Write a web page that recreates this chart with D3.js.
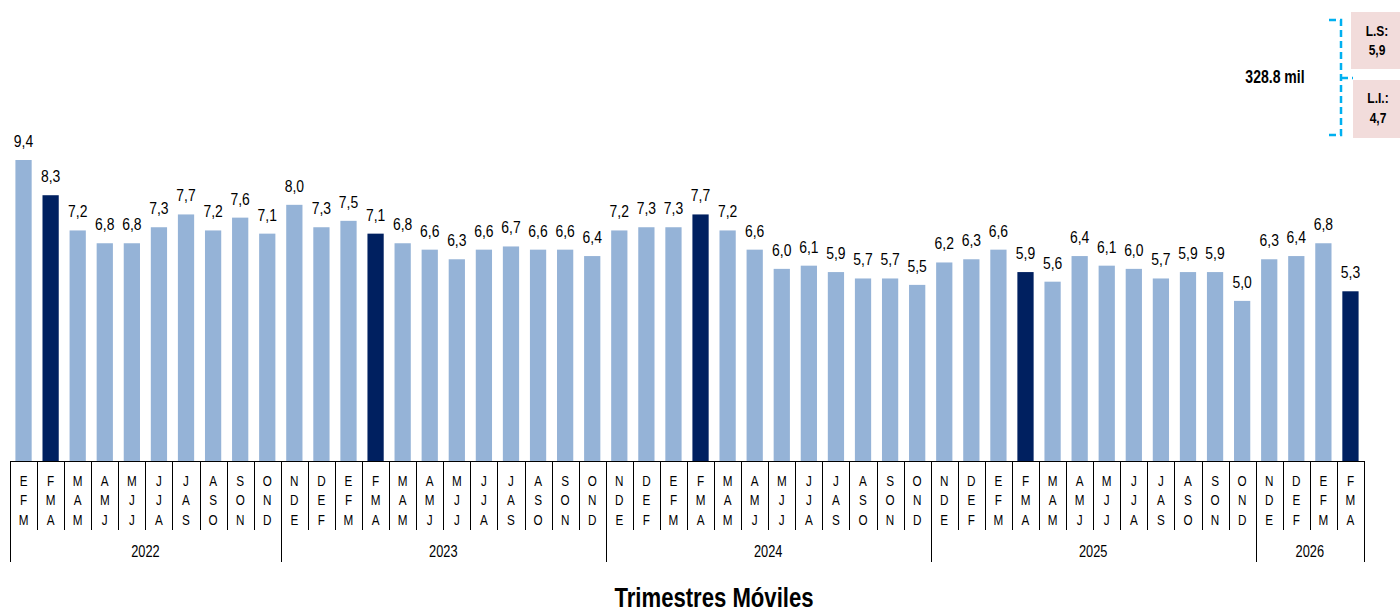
<!DOCTYPE html>
<html>
<head>
<meta charset="utf-8">
<script src="https://cdn.jsdelivr.net/npm/d3@7"></script>
<style>
  body { margin: 0; background: #fff; }
  svg { font-family: "Liberation Sans Narrow", "Liberation Sans", Arial, sans-serif; }
</style>
</head>
<body>
<div id="chart"></div>
<script>
// trimestres moviles, tasa por periodo
var periods = ["EFM","FMA","MAM","AMJ","MJJ","JJA","JAS","ASO","SON","OND",
  "NDE","DEF","EFM","FMA","MAM","AMJ","MJJ","JJA","JAS","ASO","SON","OND",
  "NDE","DEF","EFM","FMA","MAM","AMJ","MJJ","JJA","JAS","ASO","SON","OND",
  "NDE","DEF","EFM","FMA","MAM","AMJ","MJJ","JJA","JAS","ASO","SON","OND",
  "NDE","DEF","EFM","FMA"];
var values = [9.4,8.3,7.2,6.8,6.8,7.3,7.7,7.2,7.6,7.1,
  8.0,7.3,7.5,7.1,6.8,6.6,6.3,6.6,6.7,6.6,6.6,6.4,
  7.2,7.3,7.3,7.7,7.2,6.6,6.0,6.1,5.9,5.7,5.7,5.5,
  6.2,6.3,6.6,5.9,5.6,6.4,6.1,6.0,5.7,5.9,5.9,5.0,
  6.3,6.4,6.8,5.3];
var years = ["2022","2023","2024","2025","2026"];
var yearCounts = [10,12,12,12,4];
var highlight = "FMA";
var interval = { total: "328.8 mil", ls: "5,9", li: "4,7" };

var W = 1400, H = 612;
var margin = { left: 10, right: 36, base: 461 };

var svg = d3.select("#chart").append("svg")
  .attr("width", W).attr("height", H);

// no narrow font installed: squeeze text horizontally
function ntext(g, X, Y, str, size, sx, bold) {
  return g.append("text")
    .attr("x", X / sx).attr("y", Y)
    .attr("transform", "scale(" + sx + ",1)")
    .attr("text-anchor", "middle")
    .attr("font-size", size)
    .attr("font-weight", bold ? "bold" : "normal")
    .attr("fill", "#000")
    .text(str);
}

var idx = periods.map(function (d, i) { return i; });
var x = d3.scaleBand().domain(idx).range([margin.left, W - margin.right]).paddingInner(0.4).paddingOuter(0.2);
var y = d3.scaleLinear().domain([0, 9.4]).range([margin.base, margin.base - 301]);

// bars
svg.append("g").selectAll("rect").data(values).enter().append("rect")
  .attr("x", function (d, i) { return x(i); })
  .attr("width", x.bandwidth())
  .attr("y", function (d) { return y(d); })
  .attr("height", function (d) { return y(0) - y(d); })
  .attr("fill", function (d, i) { return periods[i] === highlight ? "#002060" : "#95B3D7"; });

// value labels
var vl = svg.append("g");
values.forEach(function (d, i) {
  ntext(vl, x(i) + x.bandwidth() / 2, y(d) - 13, d.toFixed(1).replace(".", ","), 17, 0.82);
});

// axis
var step = x.step();
var x0 = margin.left, x1 = W - margin.right;
var ax = svg.append("g").attr("stroke", "#000").attr("stroke-width", 1);
ax.append("line").attr("x1", x0).attr("x2", x1).attr("y1", margin.base + 0.5).attr("y2", margin.base + 0.5);

var edgeX = function (i) { return Math.round(margin.left + i * step) + 0.5; };
var yearEdges = [0];
yearCounts.reduce(function (a, c) { yearEdges.push(a + c); return a + c; }, 0);

d3.range(periods.length + 1).forEach(function (i) {
  var isYear = yearEdges.indexOf(i) >= 0;
  ax.append("line")
    .attr("x1", edgeX(i)).attr("x2", edgeX(i))
    .attr("y1", margin.base).attr("y2", isYear ? 562 : 530);
});

// month letters stacked
var lab = svg.append("g");
periods.forEach(function (p, i) {
  var cx = margin.left + (i + 0.5) * step;
  p.split("").forEach(function (ch, k) {
    ntext(lab, cx, 486 + k * 19.5, ch, 15, 0.78);
  });
});

// year labels
years.forEach(function (yr, j) {
  var cx = margin.left + (yearEdges[j] + yearEdges[j + 1]) / 2 * step;
  ntext(lab, cx, 557, yr, 16, 0.8);
});

// axis title
ntext(svg, 714, 607, "Trimestres Móviles", 28, 0.79, true);

// interval annotation
var ann = svg.append("g");
ann.append("path")
  .attr("d", "M1329,20 L1341,20 L1341,135 L1329,135 M1341,78 L1353,78")
  .attr("fill", "none").attr("stroke", "#00B0F0").attr("stroke-width", 2.5)
  .attr("stroke-dasharray", "7,4");
ntext(ann, 1275, 83, interval.total, 18, 0.78, true);

ann.append("rect").attr("x", 1351).attr("y", 12).attr("width", 49).attr("height", 57).attr("fill", "#F2DCDB");
ann.append("rect").attr("x", 1353).attr("y", 80).attr("width", 47).attr("height", 58).attr("fill", "#F2DCDB");
ntext(ann, 1377, 36, "L.S:", 15, 0.8, true);
ntext(ann, 1377, 55, interval.ls, 15, 0.8, true);
ntext(ann, 1378, 103, "L.I.:", 15, 0.8, true);
ntext(ann, 1378, 123, interval.li, 15, 0.8, true);
</script>
</body>
</html>
